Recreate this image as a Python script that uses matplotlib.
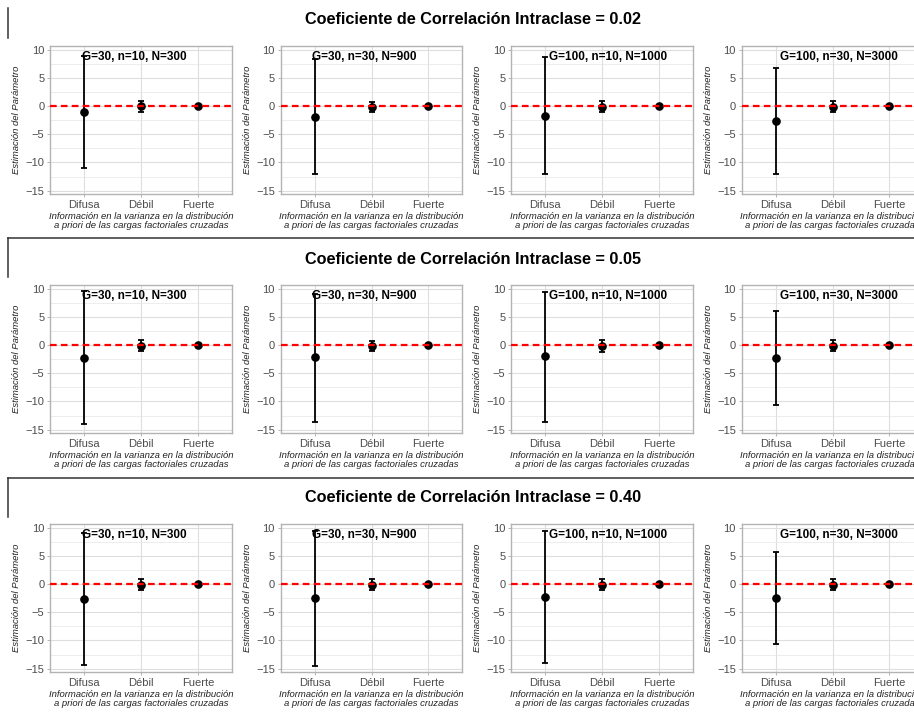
import numpy as np
import matplotlib
matplotlib.use("Agg")
import matplotlib.pyplot as plt
from matplotlib.lines import Line2D

plt.rcParams['font.family'] = ['Liberation Sans', 'DejaVu Sans']

# datos
icc_labels = ['0.02', '0.05', '0.40']
panel_labels = ['G=30, n=10, N=300', 'G=30, n=30, N=900',
                'G=100, n=10, N=1000', 'G=100, n=30, N=3000']
categorias = ['Difusa', 'Débil', 'Fuerte']

# estimacion puntual: [icc][panel][categoria]
est = [
    [[-1.07, -0.05, 0.03], [-1.9, -0.2, 0.03], [-1.66, -0.2, 0.03], [-2.6, -0.2, 0.03]],
    [[-2.3, -0.2, 0.08], [-2.17, -0.2, 0.05], [-2.0, -0.1, 0.05], [-2.3, -0.1, 0.05]],
    [[-2.56, -0.2, 0.03], [-2.5, -0.2, 0.03], [-2.2, -0.1, 0.03], [-2.5, -0.1, 0.03]],
]
lower = [
    [[-10.9, -0.95, -0.1], [-12.1, -1.07, -0.1], [-12.1, -1.1, -0.1], [-12.1, -1.05, -0.1]],
    [[-14.05, -1.0, -0.1], [-13.6, -1.1, -0.1], [-13.6, -1.2, -0.1], [-10.7, -1.0, -0.1]],
    [[-14.4, -1.1, -0.1], [-14.5, -1.1, -0.1], [-14.0, -1.07, -0.1], [-10.6, -1.07, -0.1]],
]
upper = [
    [[9.0, 0.85, 0.15], [8.35, 0.83, 0.15], [8.7, 0.85, 0.15], [6.75, 0.85, 0.15]],
    [[9.6, 0.85, 0.2], [9.1, 0.8, 0.2], [9.4, 0.97, 0.2], [6.1, 0.85, 0.2]],
    [[9.05, 0.97, 0.15], [9.4, 1.0, 0.15], [9.46, 0.9, 0.15], [5.65, 0.9, 0.15]],
]

W, H = 914, 712
fig = plt.figure(figsize=(W / 100, H / 100), dpi=100)

col_left = [50, 280.5, 511, 741.5]
row_top = [46, 285, 524]
ax_w, ax_h = 182, 148
label_x = [1.88, 1.88, 2.11, 2.11]
title_y = [20, 259, 498]

xlabel = 'Información en la varianza en la distribución\na priori de las cargas factoriales cruzadas'
x = np.arange(1, len(categorias) + 1)

for r in range(len(icc_labels)):
    fig.text(473 / W, 1 - title_y[r] / H,
             'Coeficiente de Correlación Intraclase = ' + icc_labels[r],
             ha='center', va='center', fontsize=11.7, fontweight='bold')
    for c in range(len(panel_labels)):
        ax = fig.add_axes([col_left[c] / W, 1 - (row_top[r] + ax_h) / H, ax_w / W, ax_h / H])
        e = np.array(est[r][c])
        lo = np.array(lower[r][c])
        hi = np.array(upper[r][c])
        ax.errorbar(x, e, yerr=[e - lo, hi - e], fmt='none', ecolor='black',
                    elinewidth=1.3, capsize=2.2, capthick=1.3, zorder=3)
        ax.plot(x, e, 'o', color='black', markersize=5.2, zorder=4)
        ax.axhline(0, color='red', lw=1.6, dashes=(3.0, 1.9), zorder=5)
        ax.text(label_x[c], 8.8, panel_labels[c], ha='center', va='center',
                fontsize=8.5, fontweight='bold', zorder=6)

        ax.set_xlim(0.4, 3.6)
        ax.set_ylim(-15.6, 10.7)
        ax.set_xticks(x)
        ax.set_xticklabels(categorias)
        ax.set_yticks([-15, -10, -5, 0, 5, 10])
        ax.set_yticks(np.arange(-12.5, 10, 5), minor=True)
        ax.grid(which='major', color='#dedede', lw=0.8)
        ax.grid(which='minor', axis='y', color='#e6e6e6', lw=0.5)
        ax.set_axisbelow(True)
        for s in ax.spines.values():
            s.set_color('#b3b3b3')
            s.set_linewidth(1.0)
        ax.tick_params(which='major', colors='#b3b3b3', length=2.5, width=0.7,
                       labelcolor='#4d4d4d', labelsize=8, pad=1.5)
        ax.tick_params(which='minor', length=0)
        ax.set_xlabel(xlabel, fontsize=6.8, style='italic', color='#222222',
                      labelpad=1.5, linespacing=1.0)
        ax.set_ylabel('Estimación del Parámetro', fontsize=6.8, style='italic',
                      color='#222222', labelpad=3)

# marcos de los bloques
line_kw = dict(color='#333333', lw=1.1, transform=fig.transFigure)
for y0 in [238, 478]:
    fig.add_artist(Line2D([8 / W, 1], [1 - y0 / H] * 2, **line_kw))
for y0, y1 in [(8, 38), (238, 277), (478, 517)]:
    fig.add_artist(Line2D([8 / W] * 2, [1 - y0 / H, 1 - y1 / H], **line_kw))

fig.savefig('out.png', dpi=100)
